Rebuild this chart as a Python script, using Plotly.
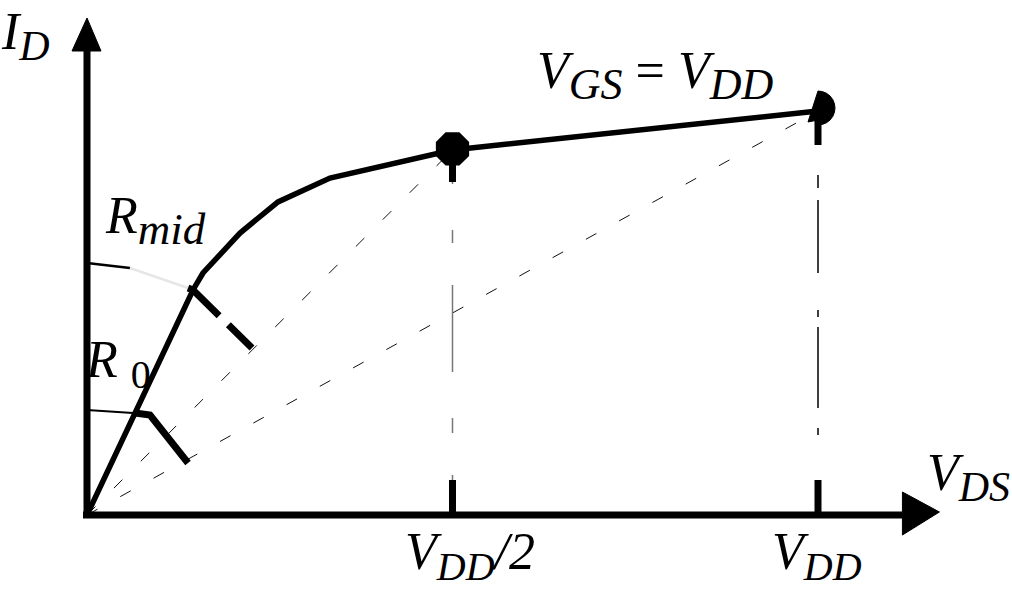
import math
import plotly.graph_objects as go

W, H = 1012, 592
# pixel mapping (layout only): origin at px (87,515), VDD at px 818, I=1 at py 111
X0, Y0, SX, SY = 87, 515, 731.0, 404.0
XR = [(0 - X0) / SX, (W - X0) / SX]
YR = [(Y0 - H) / SY, Y0 / SY]

def dx(p):  # pixels -> data (x)
    return p / SX

def dy(p):
    return p / SY

# ---- data ----
vds = [0.0, 0.0657, 0.145, 0.1587, 0.2093, 0.2613, 0.3324, 0.5, 1.0]
i_d = [0.0, 0.2525, 0.557, 0.599, 0.698, 0.775, 0.834, 0.9035, 1.0]
vdd_half = 0.5
vdd = 1.0
i_half = 0.9035
i_full = 1.0

r0_ref_x = [0.0, 0.0629]
r0_ref_y = [0.26, 0.2525]
r0_mark_x = [0.0657, 0.0862, 0.1382]
r0_mark_y = [0.2525, 0.2475, 0.1287]
rmid_ref_x = [0.0, 0.0588]
rmid_ref_y = [0.6238, 0.6114]
rmid_fade_x = [0.0588, 0.1382]
rmid_fade_y = [0.6114, 0.5619]
rmid_mark_x = [0.1382, 0.145, 0.2257]
rmid_mark_y = [0.5619, 0.557, 0.4134]

x_axis_end = 1.1155
y_axis_end = 1.1485

fig = go.Figure()

def line(x, y, w, color="black", dash="solid"):
    fig.add_trace(go.Scatter(x=x, y=y, mode="lines", hoverinfo="skip",
                             line=dict(color=color, width=w, dash=dash)))

# dashed load lines from the origin
line([0, vdd_half], [0, i_half], 1, "#111", "12px,26px")
line([0, vdd], [0, i_full], 1, "#111", "12px,26px")

# vertical dash-dot guides
line([vdd_half, vdd_half], [i_half, 0], 1.5, "#777",
     "34px,46px,13px,42px,87px,46px,15px,42px,87px")
line([vdd, vdd], [i_full, 0], 1.5, "black",
     "34px,30px,13px,12px,73px,37px,7px,10px,81px,20px,7px,45px,40px")

# thick ticks
for xv in (vdd_half, vdd):
    line([xv, xv], [0, dy(35)], 7)
line([vdd_half, vdd_half], [i_half, i_half - dy(32)], 7)
line([vdd, vdd], [i_full - dy(9), i_full - dy(34)], 7)

# resistance construction marks
line(r0_ref_x, r0_ref_y, 2)
line(r0_mark_x, r0_mark_y, 7)
line(rmid_ref_x, rmid_ref_y, 2.5)
line(rmid_fade_x, rmid_fade_y, 2.5, "#e6e6e6")
line(rmid_mark_x, rmid_mark_y, 7, "black", "42px,13px,60px")

# the I-V curve
line(vds, i_d, 5.5)

# axes
line([-dx(4), x_axis_end], [0, 0], 7)
line([0, 0], [-dy(3), y_axis_end], 7)
# arrow heads
fig.add_trace(go.Scatter(
    x=[x_axis_end, x_axis_end, x_axis_end + dx(37), x_axis_end],
    y=[dy(23), -dy(20), dy(3), dy(23)], mode="lines", fill="toself",
    fillcolor="black", line=dict(color="black", width=1), hoverinfo="skip"))
fig.add_trace(go.Scatter(
    x=[-dx(15), dx(14), 0, -dx(15)],
    y=[y_axis_end, y_axis_end, y_axis_end + dy(33), y_axis_end],
    mode="lines", fill="toself", fillcolor="black",
    line=dict(color="black", width=1), hoverinfo="skip"))

# marker at VDD/2
fig.add_trace(go.Scatter(x=[vdd_half], y=[i_half + dy(1)], mode="markers",
                         marker=dict(symbol="octagon", size=36, color="black"),
                         hoverinfo="skip"))
# half marker at VDD
cx, cy, r = vdd, i_full + dy(3), 17
hx = [cx + dx(r * math.cos(math.radians(a))) for a in range(-90, 91, 15)]
hy = [cy + dy(r * math.sin(math.radians(a))) for a in range(-90, 91, 15)]
hx += [cx - dx(10), cx, hx[0]]
hy += [cy - dy(14), cy - dy(12), hy[0]]
fig.add_trace(go.Scatter(x=hx, y=hy, mode="lines", fill="toself",
                         fillcolor="black", line=dict(color="black", width=1),
                         hoverinfo="skip"))

FONT = "Liberation Serif"

def label(text, px, py, size):
    fig.add_annotation(text=text, x=px / W, y=1 - py / H, xref="paper",
                       yref="paper", showarrow=False, xanchor="center",
                       yanchor="middle",
                       font=dict(family=FONT, size=size, color="black"))

def sub(t, s):
    return f"<sub><span style='font-size:{s}px'>{t}</span></sub>"

label("<i>I" + sub("D", 42) + "</i>", 25, 36, 52)
label("<i>V" + sub("GS", 44) + "</i> = <i>V" + sub("DD", 44) + "</i>", 655, 75, 52)
label("<i>R" + sub("mid", 45) + "</i>", 155, 221, 52)
label("<i>R</i> " + sub("0", 40), 118, 364, 52)
label("<i>V" + sub("DS", 42) + "</i>", 968, 477, 52)
label("<i>V" + sub("DD", 40) + "/2</i>", 470, 556, 52)
label("<i>V" + sub("DD", 40) + "</i>", 817, 556, 52)

fig.update_layout(
    width=W, height=H, autosize=False, showlegend=False,
    margin=dict(l=0, r=0, t=0, b=0),
    paper_bgcolor="white", plot_bgcolor="white",
    xaxis=dict(range=XR, visible=False, fixedrange=True),
    yaxis=dict(range=YR, visible=False, fixedrange=True),
)

fig.write_html(
    "out.html",
    config={"displayModeBar": False},
    post_script="document.body.style.margin='0';document.body.style.overflow='hidden';",
)
